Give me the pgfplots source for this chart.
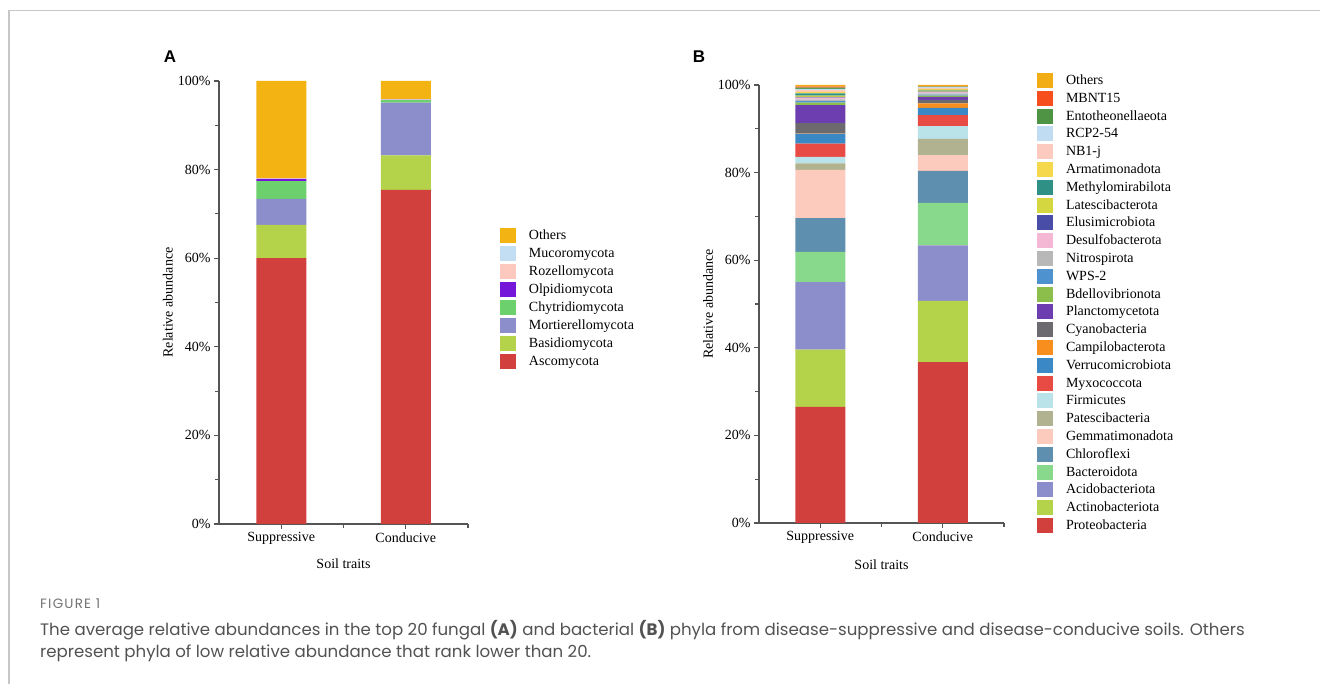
\documentclass[border=0pt]{standalone}
\usepackage{fontspec}
\setmainfont{Liberation Serif}
\newfontfamily\capfont{Poppins}
\newfontfamily\figfont[LetterSpace=9]{Poppins}
\newfontfamily\headfont{Liberation Sans}
\usepackage{pgfplots}
\usepackage{pgfplotstable}
\pgfplotsset{compat=1.18}

\definecolor{axisgray}{HTML}{555555}
% panel A
\definecolor{aOthers}{HTML}{F3B312}
\definecolor{aMucor}{HTML}{C3DDF2}
\definecolor{aRozell}{HTML}{FDC9BF}
\definecolor{aOlpid}{HTML}{7417D8}
\definecolor{aChytr}{HTML}{6CD06C}
\definecolor{aMort}{HTML}{8B8ECB}
\definecolor{aBasid}{HTML}{B5D24B}
\definecolor{aAsco}{HTML}{D2403D}
% panel B
\definecolor{bOthers}{HTML}{F2AC14}
\definecolor{bMBNT}{HTML}{F74E1E}
\definecolor{bEntot}{HTML}{4F9445}
\definecolor{bRCP}{HTML}{C0DCF2}
\definecolor{bNB}{HTML}{FDCAC0}
\definecolor{bArmat}{HTML}{F5D84C}
\definecolor{bMethy}{HTML}{2F9185}
\definecolor{bLates}{HTML}{D5D741}
\definecolor{bElusi}{HTML}{4A4DA8}
\definecolor{bDesul}{HTML}{F4B8D5}
\definecolor{bNitro}{HTML}{B8B8B8}
\definecolor{bWPS}{HTML}{4E93D0}
\definecolor{bBdell}{HTML}{8CBE4B}
\definecolor{bPlanc}{HTML}{6C3EAF}
\definecolor{bCyano}{HTML}{6C6A6E}
\definecolor{bCampi}{HTML}{F78E1E}
\definecolor{bVerru}{HTML}{3A88C6}
\definecolor{bMyxo}{HTML}{E84A44}
\definecolor{bFirmi}{HTML}{B9E3E8}
\definecolor{bPates}{HTML}{B1B28F}
\definecolor{bGemma}{HTML}{FDCBBD}
\definecolor{bChlor}{HTML}{5F8FAE}
\definecolor{bBacte}{HTML}{89D98C}
\definecolor{bAcido}{HTML}{8B8ECB}
\definecolor{bActin}{HTML}{B5D24B}
\definecolor{bProte}{HTML}{D2403D}

\pgfplotstableread{
x Asco Basid Mort Chytr Olpid Rozell Mucor Others
0 60.0 7.5 5.9 4.0 0.5 0.1 0.1 21.9
1 75.4 7.8 11.9 0.6 0.05 0.05 0.1 4.1
}\tableA

\pgfplotstableread{
x Prote Actin Acido Bacte Chlor Gemma Pates Firmi Myxo Verru Campi Cyano Planc Bdell WPS Nitro Desul Elusi Lates Methy Armat NB RCP Entot MBNT Others
0 26.5 13.1 15.4 6.9 7.7 11.0 1.5 1.5 3.0 2.3 0.1 2.3 4.1 0.6 0.3 0.4 0.4 0.2 0.3 0.5 0.3 0.4 0.3 0.3 0.2 0.4
1 36.7 14.0 12.7 9.7 7.3 3.6 3.7 2.9 2.5 1.7 1.0 0.8 0.7 0.3 0.2 0.3 0.2 0.2 0.2 0.2 0.2 0.2 0.2 0.1 0.1 0.3
}\tableB

\pgfplotsset{
  panel/.style={
    scale only axis, ybar stacked, bar width=50pt,
    xmin=-0.5, xmax=1.5, ymin=0, ymax=100,
    axis lines*=left,
    axis line style={line width=1.1pt, color=axisgray},
    xtick={0,1}, xticklabels={Suppressive,Conducive},
    minor xtick={0.5,1.5},
    ytick={0,20,...,100}, minor ytick={10,30,50,70,90},
    yticklabel={\pgfmathprintnumber{\tick}\%},
    tick align=outside, major tick length=5pt, minor tick length=4pt,
    every tick/.style={line width=1.1pt, color=axisgray},
    every minor tick/.style={line width=1.1pt, color=axisgray},
    tick label style={font=\fontsize{14}{16}\selectfont, text=black},
    label style={font=\fontsize{14}{16}\selectfont},
    xlabel={Soil traits}, ylabel={Relative abundance},
    /pgf/number format/assume math mode=true,
    legend style={draw=none, fill=none, inner sep=0pt, outer sep=0pt,
      anchor=north west, row sep=2.75pt, font=\fontsize{14}{16}\selectfont,
      nodes={inner xsep=0pt, inner ysep=0pt, text height=11.5pt, text depth=3.5pt, anchor=base west}},
    legend cell align=left,
    reverse legend,
  },
  sq/.style={fill=#1, draw=none,
    legend image code/.code={\fill[fill=#1] (0pt,-3.5pt) rectangle (16pt,11.5pt); \path (29pt,0pt);}},
}

\begin{document}
\begin{tikzpicture}[x=1pt,y=1pt]
\useasboundingbox (0,0) rectangle (1320,684);
\draw[color=black!22, line width=1.6pt] (9,0) -- (9,673.5) -- (1320,673.5);

\node[font=\headfont\bfseries\fontsize{17}{19}\selectfont, anchor=center] at (170,627) {A};
\node[font=\headfont\bfseries\fontsize{17}{19}\selectfont, anchor=center] at (699,627) {B};

% Panel A
\begin{axis}[panel, at={(219pt,160pt)}, anchor=south west, width=249pt, height=443pt,
  ylabel style={at={(axis description cs:-0.205,0.5)}, anchor=center},
  xlabel style={at={(axis description cs:0.5,-0.0903)}, anchor=center},
  legend style={at={(axis description cs:1.1285,0.668)}, row sep=3.05pt}]
\addplot[sq=aAsco] table[x=x,y=Asco]{\tableA}; \addlegendentry{Ascomycota}
\addplot[sq=aBasid] table[x=x,y=Basid]{\tableA}; \addlegendentry{Basidiomycota}
\addplot[sq=aMort] table[x=x,y=Mort]{\tableA}; \addlegendentry{Mortierellomycota}
\addplot[sq=aChytr] table[x=x,y=Chytr]{\tableA}; \addlegendentry{Chytridiomycota}
\addplot[sq=aOlpid] table[x=x,y=Olpid]{\tableA}; \addlegendentry{Olpidiomycota}
\addplot[sq=aRozell] table[x=x,y=Rozell]{\tableA}; \addlegendentry{Rozellomycota}
\addplot[sq=aMucor] table[x=x,y=Mucor]{\tableA}; \addlegendentry{Mucoromycota}
\addplot[sq=aOthers] table[x=x,y=Others]{\tableA}; \addlegendentry{Others}
\end{axis}

% Panel B
\begin{axis}[panel, at={(759pt,161pt)}, anchor=south west, width=245pt, height=438pt,
  ylabel style={at={(axis description cs:-0.208,0.5)}, anchor=center},
  xlabel style={at={(axis description cs:0.5,-0.0959)}, anchor=center},
  legend style={at={(axis description cs:1.1347,1.0274)}, row sep=2.8pt}]
\addplot[sq=bProte] table[x=x,y=Prote]{\tableB}; \addlegendentry{Proteobacteria}
\addplot[sq=bActin] table[x=x,y=Actin]{\tableB}; \addlegendentry{Actinobacteriota}
\addplot[sq=bAcido] table[x=x,y=Acido]{\tableB}; \addlegendentry{Acidobacteriota}
\addplot[sq=bBacte] table[x=x,y=Bacte]{\tableB}; \addlegendentry{Bacteroidota}
\addplot[sq=bChlor] table[x=x,y=Chlor]{\tableB}; \addlegendentry{Chloroflexi}
\addplot[sq=bGemma] table[x=x,y=Gemma]{\tableB}; \addlegendentry{Gemmatimonadota}
\addplot[sq=bPates] table[x=x,y=Pates]{\tableB}; \addlegendentry{Patescibacteria}
\addplot[sq=bFirmi] table[x=x,y=Firmi]{\tableB}; \addlegendentry{Firmicutes}
\addplot[sq=bMyxo] table[x=x,y=Myxo]{\tableB}; \addlegendentry{Myxococcota}
\addplot[sq=bVerru] table[x=x,y=Verru]{\tableB}; \addlegendentry{Verrucomicrobiota}
\addplot[sq=bCampi] table[x=x,y=Campi]{\tableB}; \addlegendentry{Campilobacterota}
\addplot[sq=bCyano] table[x=x,y=Cyano]{\tableB}; \addlegendentry{Cyanobacteria}
\addplot[sq=bPlanc] table[x=x,y=Planc]{\tableB}; \addlegendentry{Planctomycetota}
\addplot[sq=bBdell] table[x=x,y=Bdell]{\tableB}; \addlegendentry{Bdellovibrionota}
\addplot[sq=bWPS] table[x=x,y=WPS]{\tableB}; \addlegendentry{WPS-2}
\addplot[sq=bNitro] table[x=x,y=Nitro]{\tableB}; \addlegendentry{Nitrospirota}
\addplot[sq=bDesul] table[x=x,y=Desul]{\tableB}; \addlegendentry{Desulfobacterota}
\addplot[sq=bElusi] table[x=x,y=Elusi]{\tableB}; \addlegendentry{Elusimicrobiota}
\addplot[sq=bLates] table[x=x,y=Lates]{\tableB}; \addlegendentry{Latescibacterota}
\addplot[sq=bMethy] table[x=x,y=Methy]{\tableB}; \addlegendentry{Methylomirabilota}
\addplot[sq=bArmat] table[x=x,y=Armat]{\tableB}; \addlegendentry{Armatimonadota}
\addplot[sq=bNB] table[x=x,y=NB]{\tableB}; \addlegendentry{NB1-j}
\addplot[sq=bRCP] table[x=x,y=RCP]{\tableB}; \addlegendentry{RCP2-54}
\addplot[sq=bEntot] table[x=x,y=Entot]{\tableB}; \addlegendentry{Entotheonellaeota}
\addplot[sq=bMBNT] table[x=x,y=MBNT]{\tableB}; \addlegendentry{MBNT15}
\addplot[sq=bOthers] table[x=x,y=Others]{\tableB}; \addlegendentry{Others}
\end{axis}

% Caption
\node[anchor=base west, inner sep=0pt, font=\figfont\fontsize{13.5}{15}\selectfont, text=black!55] at (40,75.5) {FIGURE 1};
\node[anchor=base west, inner sep=0pt, font=\capfont\fontsize{16.6}{22}\selectfont, text=black!68] at (40,48) {The average relative abundances in the top 20 fungal \textbf{(A)} and bacterial \textbf{(B)} phyla from disease-suppressive and disease-conducive soils. Others};
\node[anchor=base west, inner sep=0pt, font=\capfont\fontsize{16.6}{22}\selectfont, text=black!68] at (40,26) {represent phyla of low relative abundance that rank lower than 20.};
\end{tikzpicture}
\end{document}
